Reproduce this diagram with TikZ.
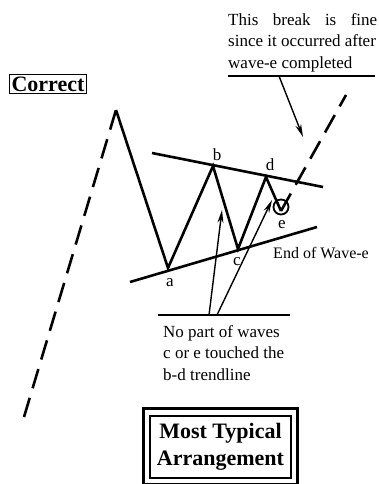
\documentclass[tikz,border=0pt]{standalone}
\usepackage{fontspec}
\setmainfont{Liberation Serif}
\usetikzlibrary{arrows.meta}
\begin{document}
\begin{tikzpicture}[x=1pt, y=-1pt,
  wave/.style={line width=2.6pt, line join=miter},
  trend/.style={line width=2.6pt},
  dashwave/.style={line width=2.6pt, dash pattern=on 20pt off 10pt},
  pointer/.style={line width=1.4pt, -{Stealth[length=13pt, width=6pt]}},
  lbl/.style={font=\fontsize{17}{18}\selectfont, inner sep=0pt},
  note/.style={font=\fontsize{17}{21.5}\selectfont, inner sep=0pt, align=left},
  title/.style={font=\bfseries\fontsize{22}{27}\selectfont, align=center}]
  \useasboundingbox (0,0) rectangle (379,484);

  % Wave points
  \coordinate (top) at (116,110);
  \coordinate (a) at (168,268);
  \coordinate (b) at (213,166);
  \coordinate (c) at (238,249);
  \coordinate (d) at (266,177);
  \coordinate (e) at (281,211);
  \coordinate (start) at (24,417);
  \coordinate (brk) at (346,95);

  % Trendlines
  \coordinate (bd1) at (152,153);
  \coordinate (bd2) at (323,187);
  \coordinate (ac1) at (130,282);
  \coordinate (ac2) at (317,227);
  \draw[trend] (bd1) -- (bd2);
  \draw[trend] (ac1) -- (ac2);

  % Waves
  \draw[dashwave] (start) -- (top);
  \draw[wave] (top) -- (a) -- (b) -- (c) -- (d) -- (e);
  \draw[dashwave] (e) -- (brk);
  \draw[line width=1.8pt] (281,207) circle (7.5);

  % Labels
  \node[lbl] (la) at (170,283) {a};
  \node[lbl] (lb) at (217,155) {b};
  \node[lbl] (lc) at (237,262) {c};
  \node[lbl] (ld) at (270,165) {d};
  \node[lbl] (le) at (282,225) {e};
  \node[lbl, font=\fontsize{16}{18}\selectfont] (endwave) at (321,253) {End of Wave-e};

  % Boxes
  \node[title, draw, line width=1.2pt, inner sep=2pt, font=\bfseries\fontsize{22}{26}\selectfont] (correct) at (48,84) {Correct};
  \node[title, draw, line width=1.4pt, minimum width=141pt, minimum height=62pt, inner sep=0pt] (typical) at (220.5,447) {Most Typical\\Arrangement};
  \draw[line width=3pt] ([shift={(-6pt,6.5pt)}]typical.north west) rectangle ([shift={(6pt,-6pt)}]typical.south east);

  % Notes
  \node[note, anchor=north west] (brknote) at (228,13) {\makebox[149pt][s]{This break is fine}\\since it occurred after\\wave-e completed};
  \coordinate (brk-l) at (228,76);
  \coordinate (brk-r) at (375,76);
  \coordinate (brk-t) at (279,76);
  \coordinate (brk-h) at (303,137);
  \draw[line width=1.4pt] (brk-l) -- (brk-r);
  \draw[pointer] (brk-t) -- (brk-h);

  \node[note, anchor=north west] (touchnote) at (163,325) {No part of waves\\c or e touched the\\b-d trendline};
  \coordinate (tn-l) at (158,315);
  \coordinate (tn-r) at (290,315);
  \coordinate (tn-c) at (209,315);
  \coordinate (tn-e) at (217,315);
  \coordinate (hd-c) at (222,210);
  \coordinate (hd-e) at (272,200);
  \draw[line width=1.4pt] (tn-l) -- (tn-r);
  \draw[pointer] (tn-c) -- (hd-c);
  \draw[pointer] (tn-e) -- (hd-e);
\end{tikzpicture}
\end{document}
